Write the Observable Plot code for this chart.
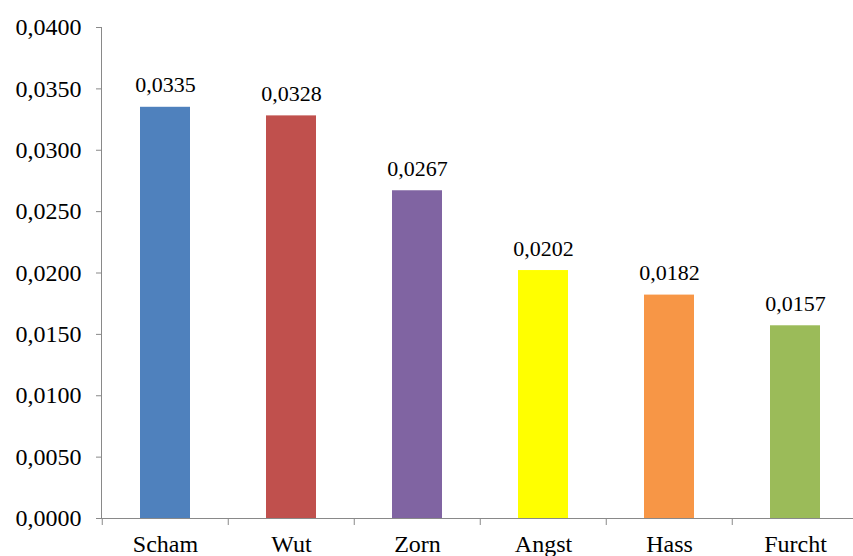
<!DOCTYPE html>
<html>
<head>
<meta charset="utf-8">
<script src="https://cdn.jsdelivr.net/npm/d3@7"></script>
<script src="https://cdn.jsdelivr.net/npm/@observablehq/plot@0.6"></script>
<style>
  html, body { margin: 0; padding: 0; background: #fff; }
  #chart svg { display: block; }
</style>
</head>
<body>
<div id="chart"></div>
<script>
const categories = ["Scham", "Wut", "Zorn", "Angst", "Hass", "Furcht"];
const values = [0.0335, 0.0328, 0.0267, 0.0202, 0.0182, 0.0157];
const colors = ["#4F81BD", "#C0504D", "#8064A2", "#FFFF00", "#F79646", "#9BBB59"];
const yTicks = [0, 0.005, 0.01, 0.015, 0.02, 0.025, 0.03, 0.035, 0.04];

const data = categories.map((c, i) => ({category: c, value: values[i], color: colors[i]}));
const fmt = v => v.toFixed(4).replace(".", ",");

const xRange = [101, 860];
const step = (xRange[1] - xRange[0]) / categories.length;
const axisColor = "#898989";
const font = "'Liberation Serif', 'Times New Roman', serif";

const chart = Plot.plot({
  width: 853,
  height: 556,
  marginLeft: 101,
  marginRight: 0,
  marginTop: 27,
  marginBottom: 38,
  style: {fontFamily: font, background: "#fff", color: "#000"},
  x: {domain: categories, range: xRange, paddingInner: 0.6, paddingOuter: 0.3, align: 0.5},
  y: {domain: [0, 0.04]},
  marks: [
    Plot.barY(data, {x: "category", y: "value", fill: "color"}),
    Plot.ruleY([0], {stroke: axisColor}),
    Plot.frame({anchor: "left", stroke: axisColor}),
    Plot.ruleX(categories, {x: d => d, dx: -step / 2, y1: 0, y2: 0, insetBottom: -7, stroke: axisColor}),
    Plot.axisY({ticks: yTicks, tickFormat: fmt, tickSize: 5, tickPadding: 15, fontSize: 24, stroke: axisColor, color: "#000", label: null}),
    Plot.axisX({tickSize: 0, tickPadding: 16, fontSize: 24, label: null}),
    Plot.text(data, {x: "category", y: "value", text: d => fmt(d.value), dy: -15, lineAnchor: "bottom", fontSize: 22, fill: "#000"})
  ]
});
document.getElementById("chart").appendChild(chart);
</script>
</body>
</html>
